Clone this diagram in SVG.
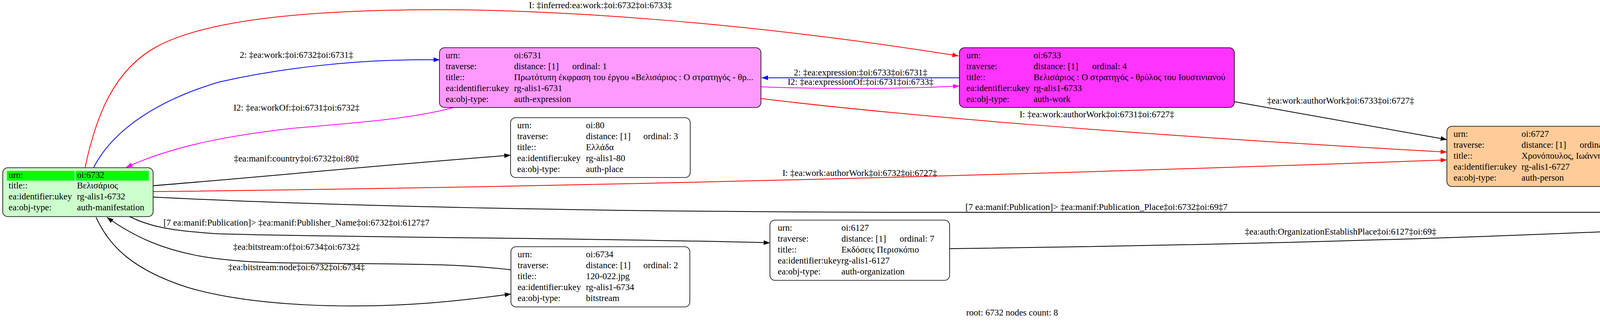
<svg xmlns="http://www.w3.org/2000/svg" width="5183" height="821" viewBox="0 0 5183 821">
<style>
text{font-family:"Liberation Serif","Times New Roman",serif;font-size:23px;fill:#000}
.lbl{text-anchor:middle}
.box{stroke:#000;stroke-width:1.6}
.e{fill:none;stroke-width:2}
.k{stroke:#000}.r{stroke:#ff0000}.b{stroke:#0000ff}.m{stroke:#ff00ff}
</style>
<defs>
<marker id="ak" markerUnits="userSpaceOnUse" markerWidth="16" markerHeight="12" refX="16" refY="6" orient="auto"><path d="M0,0L16,6L0,12z" fill="#000"/></marker>
<marker id="ar" markerUnits="userSpaceOnUse" markerWidth="16" markerHeight="12" refX="16" refY="6" orient="auto"><path d="M0,0L16,6L0,12z" fill="#ff0000"/></marker>
<marker id="ab" markerUnits="userSpaceOnUse" markerWidth="16" markerHeight="12" refX="16" refY="6" orient="auto"><path d="M0,0L16,6L0,12z" fill="#0000ff"/></marker>
<marker id="am" markerUnits="userSpaceOnUse" markerWidth="16" markerHeight="12" refX="16" refY="6" orient="auto"><path d="M0,0L16,6L0,12z" fill="#ff00ff"/></marker>
</defs>
<rect width="5183" height="821" fill="#fff"/>
<g id="connectors">
<path class="e r" marker-end="url(#ar)" d="M218,428 C245,300 290,180 400,120 C520,55 750,28 1078,25 C1400,22 1900,55 2454,143"/>
<text class="lbl" x="1537" y="21">I: ‡inferred:ea:work:‡oi:6732‡oi:6733‡</text>
<path class="e b" marker-end="url(#ab)" d="M240,428 C275,360 360,270 560,210 C700,178 900,150 1126,153"/>
<text class="lbl" x="759" y="148">2: ‡ea:work:‡oi:6732‡oi:6731‡</text>
<path class="e m" marker-end="url(#am)" d="M1161,275 C1050,305 900,315 750,328 C600,345 450,370 323,428"/>
<text class="lbl" x="759" y="283">I2: ‡ea:workOf:‡oi:6731‡oi:6732‡</text>
<path class="e k" marker-end="url(#ak)" d="M392,475 C700,450 1000,420 1307,397"/>
<text class="lbl" x="759" y="413">‡ea:manif:country‡oi:6732‡oi:80‡</text>
<path class="e r" marker-end="url(#ar)" d="M392,490 C1500,478 2700,445 3704,409"/>
<text class="lbl" x="2201" y="450">I: ‡ea:work:authorWork‡oi:6732‡oi:6727‡</text>
<path class="e k" marker-end="url(#ak)" d="M392,504 C800,525 1500,543 2400,543 L4721,543"/>
<text class="lbl" x="2807" y="537">[7 ea:manif:Publication]&gt; ‡ea:manif:Publication_Place‡oi:6732‡oi:69‡7</text>
<path class="e k" marker-end="url(#ak)" d="M332,554 C380,578 430,590 560,598 C900,608 1500,608 1971,621"/>
<text class="lbl" x="759" y="577">[7 ea:manif:Publication]&gt; ‡ea:manif:Publisher_Name‡oi:6732‡oi:6127‡7</text>
<path class="e k" marker-end="url(#ak)" d="M1308,690 C1150,672 1000,676 800,673 C560,672 420,660 274,556"/>
<text class="lbl" x="759" y="639">‡ea:bitstream:of‡oi:6734‡oi:6732‡</text>
<path class="e k" marker-end="url(#ak)" d="M246,556 C280,630 340,690 480,735 C650,785 900,790 1100,775 C1200,767 1260,758 1308,752"/>
<text class="lbl" x="759" y="691">‡ea:bitstream:node‡oi:6732‡oi:6734‡</text>
<path class="e b" marker-end="url(#ab)" d="M2456,199 L1950,199"/>
<text class="lbl" x="2203" y="193">2: ‡ea:expression:‡oi:6733‡oi:6731‡</text>
<path class="e m" marker-end="url(#am)" d="M1948,222 C2100,228 2300,228 2456,220"/>
<text class="lbl" x="2203" y="217">I2: ‡ea:expressionOf:‡oi:6731‡oi:6733‡</text>
<path class="e r" marker-end="url(#ar)" d="M1948,252 C2300,295 2900,345 3704,389"/>
<text class="lbl" x="2808" y="300">I: ‡ea:work:authorWork‡oi:6731‡oi:6727‡</text>
<path class="e k" marker-end="url(#ak)" d="M3159,260 L3704,357"/>
<text class="lbl" x="3432" y="265">‡ea:work:authorWork‡oi:6733‡oi:6727‡</text>
<path class="e k" marker-end="url(#ak)" d="M4161,432 L4720,510"/>
<text class="lbl" x="4440" y="435">‡ea:authPersonAssociated:Place_Birth‡oi:6727‡oi:69‡</text>
<path class="e k" marker-end="url(#ak)" d="M2431,636 C3300,625 4100,600 4721,560"/>
<text class="lbl" x="3432" y="600">‡ea:auth:OrganizationEstablishPlace‡oi:6127‡oi:69‡</text>
</g>
<g id="n6732">
<rect class="box" x="7" y="429" width="385" height="125" rx="13" fill="#ccffcc"/>
<rect x="18" y="437" width="173" height="25" fill="#00ff00"/>
<rect x="194" y="437" width="187" height="25" fill="#00ff00"/>
<text x="22" y="455">urn:</text><text x="197" y="455">oi:6732</text>
<text x="22" y="482">title::</text><text x="197" y="482">Βελισάριος</text>
<text x="22" y="510">ea:identifier:ukey</text><text x="197" y="510">rg-alis1-6732</text>
<text x="22" y="538">ea:obj-type:</text><text x="197" y="538">auth-manifestation</text>
</g>
<g id="n6731">
<rect class="box" x="1125" y="122" width="823" height="153" rx="13" fill="#ff99ff"/>
<text x="1141" y="149">urn:</text><text x="1316" y="149">oi:6731</text>
<text x="1141" y="177">traverse:</text><text x="1316" y="177">distance: [1]</text><text x="1465" y="177">ordinal: 1</text>
<text x="1141" y="205">title::</text><text x="1316" y="205">Πρωτότυπη έκφραση του έργου «Βελισάριος : Ο στρατηγός - θρ...</text>
<text x="1141" y="233">ea:identifier:ukey</text><text x="1316" y="233">rg-alis1-6731</text>
<text x="1141" y="261">ea:obj-type:</text><text x="1316" y="261">auth-expression</text>
</g>
<g id="n6733">
<rect class="box" x="2456" y="122" width="704" height="153" rx="13" fill="#ff33ff"/>
<text x="2474" y="149">urn:</text><text x="2646" y="149">oi:6733</text>
<text x="2474" y="177">traverse:</text><text x="2646" y="177">distance: [1]</text><text x="2796" y="177">ordinal: 4</text>
<text x="2474" y="205">title::</text><text x="2646" y="205">Βελισάριος : Ο στρατηγός - θρύλος του Ιουστινιανού</text>
<text x="2474" y="233">ea:identifier:ukey</text><text x="2646" y="233">rg-alis1-6733</text>
<text x="2474" y="261">ea:obj-type:</text><text x="2646" y="261">auth-work</text>
</g>
<g id="n80">
<rect class="box" x="1307" y="301" width="460" height="153" rx="13" fill="#fff"/>
<text x="1324" y="328">urn:</text><text x="1500" y="328">oi:80</text>
<text x="1324" y="356">traverse:</text><text x="1500" y="356">distance: [1]</text><text x="1647" y="356">ordinal: 3</text>
<text x="1324" y="384">title::</text><text x="1500" y="384">Ελλάδα</text>
<text x="1324" y="412">ea:identifier:ukey</text><text x="1500" y="412">rg-alis1-80</text>
<text x="1324" y="440">ea:obj-type:</text><text x="1500" y="440">auth-place</text>
</g>
<g id="n6727">
<rect class="box" x="3704" y="323" width="457" height="154" rx="13" fill="#ffcc99"/>
<text x="3721" y="350">urn:</text><text x="3895" y="350">oi:6727</text>
<text x="3721" y="378">traverse:</text><text x="3895" y="378">distance: [1]</text><text x="4044" y="378">ordinal: 5</text>
<text x="3721" y="406">title::</text><text x="3895" y="406">Χρονόπουλος, Ιωάννης</text>
<text x="3721" y="434">ea:identifier:ukey</text><text x="3895" y="434">rg-alis1-6727</text>
<text x="3721" y="462">ea:obj-type:</text><text x="3895" y="462">auth-person</text>
</g>
<g id="n69">
<rect class="box" x="4720" y="466" width="456" height="153" rx="13" fill="#fff"/>
<text x="4736" y="493">urn:</text><text x="4909" y="493">oi:69</text>
<text x="4736" y="521">traverse:</text><text x="4909" y="521">distance: [1]</text><text x="5058" y="521">ordinal: 6</text>
<text x="4736" y="549">title::</text><text x="4909" y="549">Αθήνα</text>
<text x="4736" y="577">ea:identifier:ukey</text><text x="4909" y="577">rg-alis1-69</text>
<text x="4736" y="605">ea:obj-type:</text><text x="4909" y="605">auth-place</text>
</g>
<g id="n6127">
<rect class="box" x="1971" y="563" width="460" height="154" rx="13" fill="#fff"/>
<text x="1991" y="590">urn:</text><text x="2154" y="590">oi:6127</text>
<text x="1991" y="618">traverse:</text><text x="2154" y="618">distance: [1]</text><text x="2303" y="618">ordinal: 7</text>
<text x="1991" y="646">title::</text><text x="2154" y="646">Εκδόσεις Περισκόπιο</text>
<text x="1991" y="674">ea:identifier:ukey</text><text x="2154" y="674">rg-alis1-6127</text>
<text x="1991" y="702">ea:obj-type:</text><text x="2154" y="702">auth-organization</text>
</g>
<g id="n6734">
<rect class="box" x="1308" y="631" width="458" height="154" rx="13" fill="#fff"/>
<text x="1325" y="658">urn:</text><text x="1500" y="658">oi:6734</text>
<text x="1325" y="686">traverse:</text><text x="1500" y="686">distance: [1]</text><text x="1647" y="686">ordinal: 2</text>
<text x="1325" y="714">title::</text><text x="1500" y="714">120-022.jpg</text>
<text x="1325" y="742">ea:identifier:ukey</text><text x="1500" y="742">rg-alis1-6734</text>
<text x="1325" y="770">ea:obj-type:</text><text x="1500" y="770">bitstream</text>
</g>
<text class="lbl" x="2591" y="807">root: 6732 nodes count: 8</text>
</svg>
